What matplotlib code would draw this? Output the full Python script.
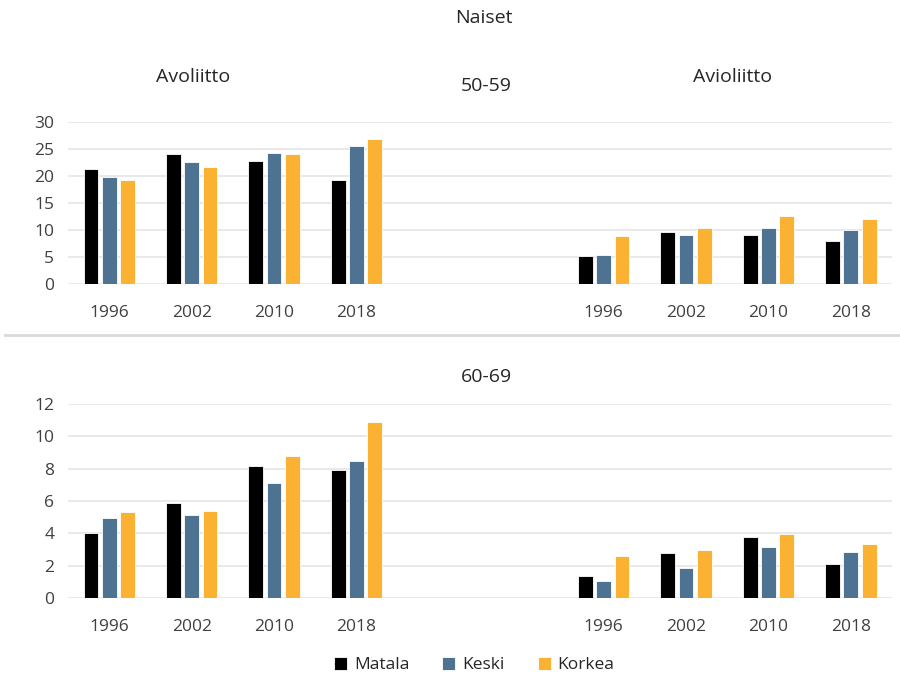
import matplotlib
matplotlib.use("Agg")
import matplotlib.pyplot as plt
from matplotlib.lines import Line2D
import numpy as np

years = ["1996", "2002", "2010", "2018"]
series = ["Matala", "Keski", "Korkea"]
colors = ["#000000", "#4E7292", "#FBB131"]

# 50-59
avo_5059 = {"Matala": [21.2, 24.0, 22.8, 19.2],
            "Keski": [19.8, 22.5, 24.3, 25.6],
            "Korkea": [19.2, 21.7, 24.0, 26.8]}
avi_5059 = {"Matala": [5.1, 9.5, 9.0, 7.9],
            "Keski": [5.3, 9.1, 10.4, 10.0],
            "Korkea": [8.8, 10.3, 12.5, 12.0]}
# 60-69
avo_6069 = {"Matala": [4.0, 5.85, 8.15, 7.9],
            "Keski": [4.95, 5.15, 7.1, 8.45],
            "Korkea": [5.3, 5.4, 8.8, 10.85]}
avi_6069 = {"Matala": [1.35, 2.8, 3.8, 2.1],
            "Keski": [1.05, 1.9, 3.15, 2.85],
            "Korkea": [2.6, 2.95, 3.95, 3.35]}

plt.rcParams['font.family'] = ['Open Sans', 'DejaVu Sans']

fig = plt.figure(figsize=(9, 6.76), dpi=100)
ax1 = fig.add_axes([0.0756, 0.5803, 0.9156, 0.2396])
ax2 = fig.add_axes([0.0756, 0.1149, 0.9156, 0.2879])

pos_left = np.arange(4)
pos_right = np.arange(4) + 6
step = 0.222
bw = 0.18

def draw(ax, left, right, ymax, ystep):
    for i, s in enumerate(series):
        off = (i - 1) * step
        ax.bar(pos_left + off, left[s], width=bw, color=colors[i],
               edgecolor="white", linewidth=0.6, zorder=3, label=s)
        ax.bar(pos_right + off, right[s], width=bw, color=colors[i],
               edgecolor="white", linewidth=0.6, zorder=3)
    ax.set_xlim(-0.5, 9.5)
    ax.set_ylim(0, ymax)
    ax.set_yticks(np.arange(0, ymax + 0.01, ystep))
    ax.set_xticks(list(pos_left) + list(pos_right))
    ax.set_xticklabels(years + years)
    ax.grid(axis="y", color="#e3e3e3", linewidth=1.1, zorder=0)
    for sp in ax.spines.values():
        sp.set_visible(False)
    ax.tick_params(length=0, labelsize=12.5, colors="#404040")
    ax.tick_params(axis="x", pad=15)
    ax.tick_params(axis="y", pad=10)

draw(ax1, avo_5059, avi_5059, 30, 5)
draw(ax2, avo_6069, avi_6069, 12, 2)

tkw = dict(ha="center", va="center", fontsize=14, color="#262626")
fig.text(484/900, 1 - 18/676, "Naiset", **tkw)
fig.text(193/900, 1 - 77/676, "Avoliitto", **tkw)
fig.text(733/900, 1 - 77/676, "Avioliitto", **tkw)
fig.text(486/900, 1 - 86/676, "50-59", **tkw)
fig.text(486/900, 1 - 377/676, "60-69", **tkw)

fig.add_artist(Line2D([5/900, 1.0], [1 - 335/676, 1 - 335/676],
                      color="#d9d9d9", linewidth=2, transform=fig.transFigure))

handles, labels = ax1.get_legend_handles_labels()
fig.legend(handles, labels, loc="center", bbox_to_anchor=(0.527, 1 - 665/676),
           ncol=3, frameon=False, fontsize=12.5, handlelength=0.75, handleheight=0.75,
           columnspacing=1.9, handletextpad=0.4, labelcolor="#262626")

fig.savefig("out.png", dpi=100)
